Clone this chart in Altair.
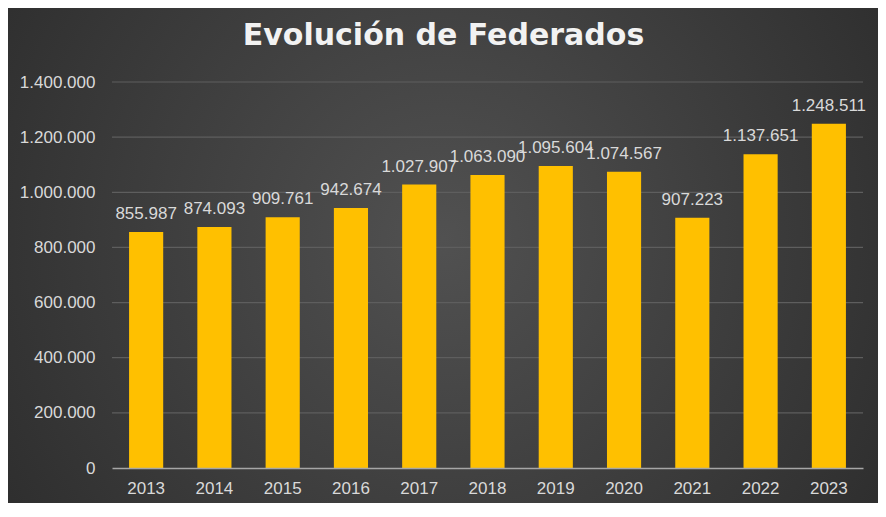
import altair as alt
import pandas as pd

years = ["2013", "2014", "2015", "2016", "2017", "2018", "2019", "2020", "2021", "2022", "2023"]
federados = [855987, 874093, 909761, 942674, 1027907, 1063090, 1095604, 1074567, 907223, 1137651, 1248511]
labels = ["855.987", "874.093", "909.761", "942.674", "1.027.907", "1.063.090",
          "1.095.604", "1.074.567", "907.223", "1.137.651", "1.248.511"]
y_ticks = [0, 200000, 400000, 600000, 800000, 1000000, 1200000, 1400000]

df = pd.DataFrame({"year": years, "value": federados, "label": labels})
grid_df = pd.DataFrame({"tick": y_ticks[1:]})

W, H = 751, 386
PAD = {"left": 104, "top": 74, "right": 15, "bottom": 35}
FONT = "Liberation Sans"

grad = alt.RadialGradient(
    gradient="radial",
    x1=0.5, y1=0.48, r1=0.0,
    x2=0.5, y2=0.48, r2=0.75,
    stops=[
        alt.GradientStop(offset=0.0, color="#515151"),
        alt.GradientStop(offset=1.0, color="#252525"),
    ],
)

y_scale = alt.Scale(domain=[0, 1400000], nice=False)

bg = alt.Chart(df).mark_rect(fill=grad, stroke=None).encode(
    x=alt.value(-PAD["left"]),
    x2=alt.value(W + PAD["right"]),
    y=alt.value(-PAD["top"]),
    y2=alt.value(H + PAD["bottom"]),
)

grid = alt.Chart(grid_df).mark_rule(color="#5e5e5e", strokeWidth=1.2).encode(
    y=alt.Y("tick:Q", scale=y_scale),
)

x_enc = alt.X("year:N", sort=years, title=None,
              scale=alt.Scale(paddingInner=0.5, paddingOuter=0.25),
              axis=alt.Axis(labelAngle=0, labelColor="#d9d9d9", labelFont=FONT,
                            labelFontSize=17, labelPadding=12, ticks=False,
                            domainColor="#a6a6a6", domainWidth=1.5, grid=False,
                            zindex=1))

bars = alt.Chart(df).mark_bar(color="#FFC000").encode(
    x=x_enc,
    y=alt.Y("value:Q", scale=y_scale, title=None,
            axis=alt.Axis(values=y_ticks, labelColor="#d9d9d9", labelFont=FONT,
                          labelFontSize=17, labelPadding=17, ticks=False, domain=False,
                          grid=False, zindex=1,
                          labelExpr="replace(format(datum.value, ',d'), /,/g, '.')")),
)

text = alt.Chart(df).mark_text(color="#d9d9d9", font=FONT, fontSize=17,
                               baseline="alphabetic", dy=-13).encode(
    x=alt.X("year:N", sort=years),
    y=alt.Y("value:Q", scale=y_scale),
    text="label:N",
)

chart = alt.layer(bg, grid, bars, text).properties(
    width=W, height=H,
    autosize=alt.AutoSizeParams(type="none"),
    padding=PAD,
    background="#2b2b2b",
    title=alt.TitleParams("Evolución de Federados", color="#f2f2f2",
                          font="DejaVu Sans", fontWeight="bold", fontSize=30,
                          anchor="middle", frame="group", baseline="alphabetic",
                          dx=-44, dy=67, offset=0),
).configure_view(stroke=None)

chart.save("out.html", embed_options={"renderer": "svg", "actions": False})
